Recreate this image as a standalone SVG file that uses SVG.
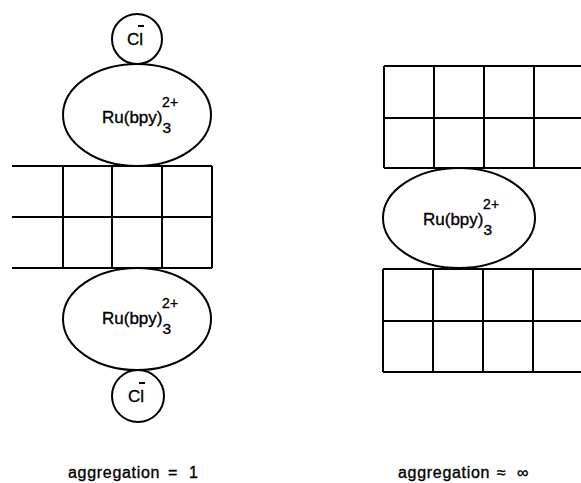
<svg xmlns="http://www.w3.org/2000/svg" width="581" height="483" viewBox="0 0 581 483">
<style>
.s{fill:none;stroke:#000;stroke-width:2}
.e{fill:#fff;stroke:#000;stroke-width:2}
.t{font-family:"Liberation Sans",Arial,sans-serif;fill:#000;stroke:#000;stroke-width:0.35}
.ru{font-size:17px}
.sup{font-size:14px}
.sub{font-size:15.5px}
.cl{font-size:17px}
.lab{font-size:16px;letter-spacing:0.7px}
</style>
<rect width="581" height="483" fill="#fff"/>
<g id="grid-left">
<path class="s" d="M12 166H212M12 217H212M12 268H212M63 166V268M112 166V268M162 166V268M212 166V268"/>
</g>
<g id="grid-right-top">
<path class="s" d="M384 66H581M384 118H581M384 168H581M384 66V168M434 66V168M484 66V168M534 66V168"/>
</g>
<g id="grid-right-bottom">
<path class="s" d="M383 269H581M383 321H581M383 372H581M383 269V372M433 269V372M483 269V372M533 269V372"/>
</g>
<g id="cl-top">
<circle class="e" cx="137" cy="39" r="25"/>
<text class="t cl" x="127" y="45">C<tspan>l</tspan></text>
<path class="s" d="M138 26H144" stroke-width="1.5"/>
</g>
<g id="ru-top">
<ellipse class="e" cx="137" cy="115" rx="74" ry="51"/>
<text class="t ru" x="102" y="123">Ru(bpy)<tspan class="sub" dy="10">3</tspan><tspan class="sup" dx="-9" dy="-26">2+</tspan></text>
</g>
<g id="ru-bottom">
<ellipse class="e" cx="137" cy="319" rx="74" ry="51"/>
<text class="t ru" x="102" y="324">Ru(bpy)<tspan class="sub" dy="10">3</tspan><tspan class="sup" dx="-9" dy="-26">2+</tspan></text>
</g>
<g id="cl-bottom">
<circle class="e" cx="138" cy="396" r="26"/>
<text class="t cl" x="128" y="402">C<tspan>l</tspan></text>
<path class="s" d="M139 383H145" stroke-width="1.5"/>
</g>
<g id="ru-right">
<ellipse class="e" cx="459" cy="218" rx="76" ry="50"/>
<text class="t ru" x="423" y="225">Ru(bpy)<tspan class="sub" dy="10">3</tspan><tspan class="sup" dx="-9" dy="-26">2+</tspan></text>
</g>
<g id="labels">
<text class="t lab" x="68" y="478">aggregation<tspan x="168">=</tspan><tspan x="189">1</tspan></text>
<text class="t lab" x="398" y="478">aggregation<tspan x="497">≈</tspan><tspan x="517">∞</tspan></text>
</g>
</svg>
